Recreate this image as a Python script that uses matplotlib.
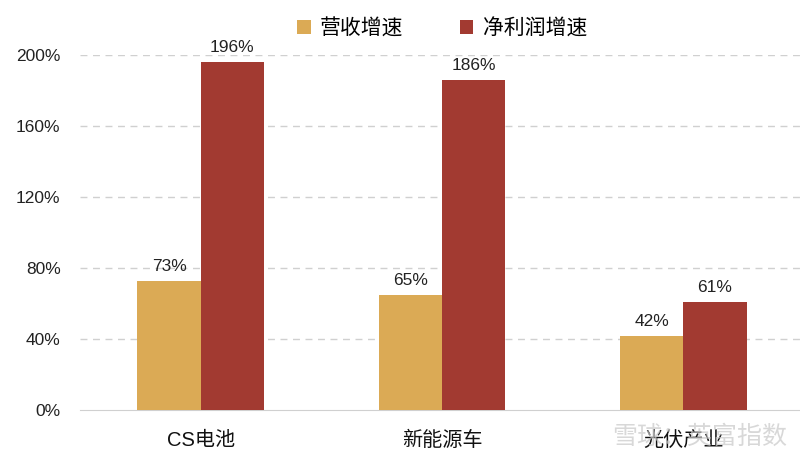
import matplotlib.pyplot as plt
import numpy as np

plt.rcParams['font.family'] = ['Liberation Sans', 'Noto Sans CJK SC']

categories = ['CS电池', '新能源车', '光伏产业']
revenue_growth = [73, 65, 42]
profit_growth = [196, 186, 61]
series_names = ['营收增速', '净利润增速']
y_ticks = [0, 40, 80, 120, 160, 200]

gold = '#DBAA55'
red = '#A23A31'

fig = plt.figure(figsize=(8, 4.61), dpi=100)
ax = fig.add_axes([0.1, 0.11, 0.905, 0.77])

x = np.arange(len(categories))
w = 0.262
b1 = ax.bar(x - w / 2, revenue_growth, w, color=gold, label=series_names[0], zorder=3)
b2 = ax.bar(x + w / 2, profit_growth, w, color=red, label=series_names[1], zorder=3)

for bars, vals in ((b1, revenue_growth), (b2, profit_growth)):
    for bar, v in zip(bars, vals):
        ax.text(bar.get_x() + bar.get_width() / 2, v + 4, '{}%'.format(v),
                ha='center', va='bottom', fontsize=12.5, color='#222222', zorder=4)

ax.set_xlim(-0.5, 2.5)
ax.set_ylim(0, 200)
ax.set_yticks(y_ticks)
ax.set_yticklabels(['{}%'.format(t) for t in y_ticks], fontsize=12.5, color='#222222')
ax.set_xticks(x)
ax.set_xticklabels(categories, fontsize=14.5, color='#111111')
ax.tick_params(axis='both', length=0)
ax.tick_params(axis='x', pad=15)
ax.tick_params(axis='y', pad=14)

for t in y_ticks[1:]:
    ax.axhline(t, color='#D0D0D0', linestyle=(0, (5, 4)), linewidth=1, zorder=1)

for s in ['top', 'right', 'left']:
    ax.spines[s].set_visible(False)
ax.spines['bottom'].set_color('#D0D0D0')

leg = ax.legend(loc='center', bbox_to_anchor=(0.5, 1.075), ncol=2, frameon=False,
                fontsize=15, handlelength=0.65, handleheight=0.65,
                handletextpad=0.45, columnspacing=2.7)

# watermark
fig.text(0.765, 0.052, '雪球：英富指数', fontsize=18, color='#C8C8C8', alpha=0.7,
         ha='left', va='center', zorder=0)

fig.savefig('out.png', dpi=100)
